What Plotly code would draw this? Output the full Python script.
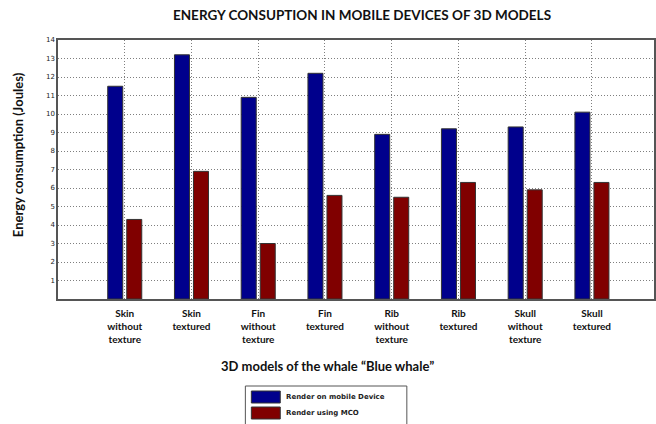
import plotly.graph_objects as go

categories = ["Skin<br>without<br>texture", "Skin<br>textured", "Fin<br>without<br>texture", "Fin<br>textured",
              "Rib<br>without<br>texture", "Rib<br>textured", "Skull<br>without<br>texture", "Skull<br>textured"]
render_mobile = [11.5, 13.2, 10.9, 12.2, 8.9, 9.2, 9.3, 10.1]
render_mco = [4.3, 6.9, 3.0, 5.6, 5.5, 6.3, 5.9, 6.3]
series_names = ["Render on mobile Device", "Render using MCO"]
y_ticks = list(range(1, 15))

BLUE = "#00008C"
RED = "#800000"
FONT = "Lato"

W, H = 656, 424
L, R, T, B = 58, 0, 40, 125
pw, ph = W - L - R, H - T - B

def px_x(x):
    return (x - L) / pw

def px_y(y):
    return (H - B - y) / ph

fig = go.Figure()
fig.add_trace(go.Bar(x=categories, y=render_mobile, name=series_names[0],
                     offset=-0.255, width=0.225, marker=dict(color=BLUE, line=dict(color="#333333", width=1))))
fig.add_trace(go.Bar(x=categories, y=render_mco, name=series_names[1],
                     offset=0.03, width=0.225, marker=dict(color=RED, line=dict(color="#333333", width=1))))

fig.update_layout(
    width=W, height=H, margin=dict(l=L, r=R, t=T, b=B),
    paper_bgcolor="white", plot_bgcolor="white", showlegend=False,
    font=dict(family=FONT, color="black"),
    title=dict(text="<b>ENERGY CONSUPTION IN MOBILE DEVICES OF 3D MODELS</b>",
               x=362 / W, xanchor="center", y=1 - 15 / H, yanchor="middle",
               font=dict(size=13.5, family=FONT, color="#111111")),
)
fig.update_xaxes(type="category", range=[-1, 7.93], showgrid=True, gridcolor="#7f7f7f",
                 griddash="1px,2px", gridwidth=1, showline=True, linecolor="#555555", linewidth=1.5,
                 mirror=True, ticks="", ticklabelstandoff=4,
                 tickfont=dict(size=10, family=FONT, color="#111111"),
                 tickprefix="<b>", ticksuffix="</b>", zeroline=False)
fig.update_yaxes(range=[0, 14], tickvals=y_ticks, showgrid=True, gridcolor="#7f7f7f",
                 griddash="1px,2px", gridwidth=1, showline=True, linecolor="#555555", linewidth=1.5,
                 mirror=True, ticks="", tickfont=dict(size=7, family="DejaVu Sans", color="#222222"),
                 tickprefix="<b>", ticksuffix="</b>", zeroline=False)

# axis titles
fig.add_annotation(text="<b>Energy consumption (Joules)</b>", xref="paper", yref="paper",
                   x=px_x(18), y=px_y(155), textangle=-90, showarrow=False,
                   xanchor="center", yanchor="middle",
                   font=dict(size=13, family=FONT, color="#111111"))
fig.add_annotation(text="<b>3D models of the whale “Blue whale”</b>", xref="paper", yref="paper",
                   x=px_x(328), y=px_y(366), showarrow=False, xanchor="center", yanchor="middle",
                   font=dict(size=13, family=FONT, color="#111111"))

# legend box drawn manually
fig.add_shape(type="rect", xref="paper", yref="paper", x0=px_x(246), x1=px_x(408),
              y0=px_y(386), y1=px_y(430), line=dict(color="#555555", width=1), fillcolor="white")
for i, (name, col) in enumerate(zip(series_names, [BLUE, RED])):
    yc = 397 + i * 16
    fig.add_shape(type="rect", xref="paper", yref="paper", x0=px_x(252), x1=px_x(281),
                  y0=px_y(yc + 6), y1=px_y(yc - 6), line=dict(color="#333333", width=1), fillcolor=col)
    fig.add_annotation(text="<b>" + name + "</b>", xref="paper", yref="paper", x=px_x(285), y=px_y(yc),
                       xanchor="left", yanchor="middle", showarrow=False,
                       font=dict(size=7, family="DejaVu Sans", color="#222222"))

fig.write_html("out.html", config={"displayModeBar": False},
               post_script="document.body.style.margin='0';document.body.style.overflow='hidden';")
